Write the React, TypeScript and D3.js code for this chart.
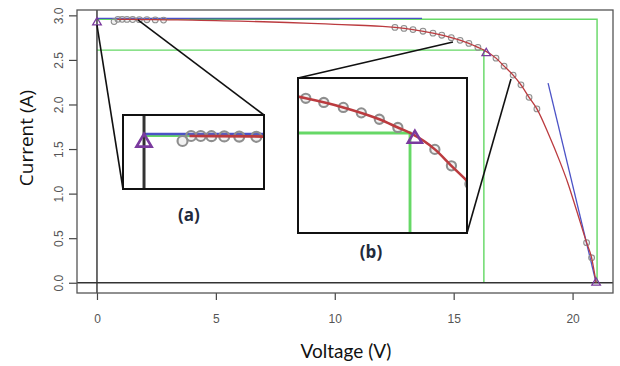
import React, { useEffect, useRef } from 'react'
import * as d3 from 'd3'

// fitted I-V curve
const fitV = [0.85, 2, 3, 4, 5, 6, 7, 8, 9, 10, 11, 12, 12.53, 13.29, 14.13, 14.9, 15.64, 16.02, 16.27, 16.78, 17.12, 17.5, 17.83, 18.17, 18.5, 19.0, 19.45, 19.8, 20.17, 20.59, 20.8, 20.99]
const fitI = [2.955, 2.953, 2.95, 2.946, 2.941, 2.935, 2.928, 2.92, 2.91, 2.899, 2.889, 2.877, 2.865, 2.84, 2.80, 2.75, 2.685, 2.64, 2.61, 2.52, 2.43, 2.33, 2.22, 2.08, 1.95, 1.66, 1.37, 1.12, 0.81, 0.45, 0.28, 0]

// measured points
const measV = [0.72, 0.88, 1.06, 1.26, 1.5, 1.78, 2.1, 2.45, 2.8, 12.53, 12.91, 13.29, 13.71, 14.13, 14.5, 14.9, 15.27, 15.64, 16.02, 16.78, 17.12, 17.5, 17.83, 18.17, 18.5, 20.59, 20.8]
const measI = [2.93, 2.955, 2.955, 2.954, 2.953, 2.952, 2.951, 2.949, 2.947, 2.865, 2.853, 2.84, 2.822, 2.80, 2.777, 2.75, 2.72, 2.685, 2.64, 2.52, 2.43, 2.33, 2.22, 2.08, 1.95, 0.45, 0.28]

// key points: Isc, MPP, Voc
const keyV = [0, 16.37, 20.99]
const keyI = [2.93, 2.585, 0.01]

// guide rectangles (Isc x Voc, Imp x Vmp)
const guideV = [21.03, 16.27]
const guideI = [2.957, 2.61]

// tangent lines, start / end
const tanV = [[0, 13.67], [3.9, 10.2], [18.97, 20.99]]
const tanI = [[2.965, 2.965], [2.96, 2.96], [2.24, 0]]

const xTicks = [0, 5, 10, 15, 20]
const yTicks = [0, 0.5, 1, 1.5, 2, 2.5, 3]

const tanColor = ['#4b52c6', '#3f7b82', '#4b52c6']
const green = '#66d866'
const red = '#bb3b3f'
const purple = '#7a3a9e'

type Sz = { lw: number, r: number, tri: number }

function drawLayer(g: any, x: any, y: any, s: Sz) {
  const line = d3.line<number[]>().x(d => x(d[0])).y(d => y(d[1]))
  const [xa, xb] = x.range()
  const [ya, yb] = y.range()

  // guides
  guideV.forEach((v, i) => {
    g.append('path')
      .attr('d', line([[0, guideI[i]], [v, guideI[i]], [v, 0]]))
      .attr('fill', 'none')
      .attr('stroke', green)
      .attr('stroke-width', s.lw * 1.1)
  })

  // tangents
  tanV.forEach((tv, i) => {
    g.append('path')
      .attr('d', line([[tv[0], tanI[i][0]], [tv[1], tanI[i][1]]]))
      .attr('stroke', tanColor[i])
      .attr('stroke-width', s.lw)
  })

  // zero lines
  g.append('line')
    .attr('x1', xa).attr('x2', xb).attr('y1', y(0)).attr('y2', y(0))
    .attr('stroke', '#333').attr('stroke-width', s.lw * 1.1)
  g.append('line')
    .attr('x1', x(0)).attr('x2', x(0)).attr('y1', ya).attr('y2', yb)
    .attr('stroke', '#333').attr('stroke-width', s.lw * 1.1)

  // measured
  g.append('g')
    .selectAll('circle')
    .data(measV.map((v, i) => [v, measI[i]]))
    .join('circle')
    .attr('cx', (d: number[]) => x(d[0]))
    .attr('cy', (d: number[]) => y(d[1]))
    .attr('r', s.r)
    .attr('fill', 'rgba(160,160,160,0.15)')
    .attr('stroke', '#8e8e8e')
    .attr('stroke-width', s.lw * 0.8)

  // fitted curve
  const fitLine = d3.line<number[]>().x(d => x(d[0])).y(d => y(d[1])).curve(d3.curveMonotoneX)
  g.append('path')
    .attr('d', fitLine(fitV.map((v, i) => [v, fitI[i]])))
    .attr('fill', 'none')
    .attr('stroke', red)
    .attr('stroke-width', s.lw)

  // key points
  const h = s.tri
  g.append('g')
    .selectAll('path')
    .data(keyV.map((v, i) => [v, keyI[i]]))
    .join('path')
    .attr('transform', (d: number[]) => `translate(${x(d[0])},${y(d[1])})`)
    .attr('d', `M0,${-h * 0.95}L${h},${h * 0.75}L${-h},${h * 0.75}Z`)
    .attr('fill', 'none')
    .attr('stroke', purple)
    .attr('stroke-width', s.lw)
}

const App = () => {
  const ref = useRef<SVGSVGElement>(null)

  useEffect(() => {
    const svg = d3.select(ref.current)
    svg.selectAll('*').remove()

    const x = d3.scaleLinear().domain([-0.84, 21.7]).range([77, 613])
    const y = d3.scaleLinear().domain([-0.115, 3.06]).range([293, 10])

    svg.append('rect').attr('width', 620).attr('height', 366).attr('fill', '#fff')

    const defs = svg.append('defs')
    defs.append('clipPath').attr('id', 'clip-main')
      .append('rect').attr('x', 77).attr('y', 10).attr('width', 536).attr('height', 283)

    const main = svg.append('g').attr('clip-path', 'url(#clip-main)')
    drawLayer(main, x, y, { lw: 1.3, r: 2.9, tri: 4.3 })

    // axes
    const xAxis = svg.append('g')
      .attr('transform', 'translate(0,293)')
      .call(d3.axisBottom(x).tickValues(xTicks).tickSize(7).tickFormat(d3.format('d')))
    xAxis.select('.domain').remove()
    xAxis.selectAll('line').attr('stroke', '#444').attr('stroke-width', 1.2)
    xAxis.selectAll('text')
      .attr('y', 30).attr('dy', 0)
      .attr('fill', '#555')
      .attr('font-family', 'Liberation Sans, Arial, sans-serif')
      .attr('font-size', 12)

    const yAxis = svg.append('g')
      .attr('transform', 'translate(77,0)')
      .call(d3.axisLeft(y).tickValues(yTicks).tickSize(8).tickFormat(d3.format('.1f')))
    yAxis.select('.domain').remove()
    yAxis.selectAll('line').attr('stroke', '#444').attr('stroke-width', 1.2)
    yAxis.selectAll('text')
      .attr('transform', 'rotate(-90)')
      .attr('x', 0).attr('y', -14).attr('dy', 0)
      .attr('text-anchor', 'middle')
      .attr('fill', '#555')
      .attr('font-family', 'Liberation Sans, Arial, sans-serif')
      .attr('font-size', 12)

    svg.append('rect')
      .attr('x', 77).attr('y', 10).attr('width', 536).attr('height', 283)
      .attr('fill', 'none').attr('stroke', '#555').attr('stroke-width', 1.3)

    // zoom insets
    const insets = [
      { id: 'a', xDom: [-0.393, 2.243], yDom: [2.69, 3.06], box: [123, 115, 264, 189],
        from: [[0, 2.89], [1.72, 2.95]], to: [[123, 189], [264, 115]],
        sz: { lw: 2.7, r: 5, tri: 7.5 }, label: [189, 221] },
      { id: 'b', xDom: [13.97, 17.44], yDom: [2.062, 2.911], box: [298, 78, 467, 233],
        from: [[14.97, 2.70], [17.41, 2.286]], to: [[298, 78], [467, 233]],
        sz: { lw: 2.6, r: 4.6, tri: 7 }, label: [371, 258] },
    ]

    insets.forEach(ins => {
      const [x0, y0, x1, y1] = ins.box
      ins.from.forEach((f, i) => {
        svg.append('line')
          .attr('x1', x(f[0])).attr('y1', y(f[1]))
          .attr('x2', ins.to[i][0]).attr('y2', ins.to[i][1])
          .attr('stroke', '#111').attr('stroke-width', 1.6)
      })
      defs.append('clipPath').attr('id', `clip-${ins.id}`)
        .append('rect').attr('x', x0).attr('y', y0).attr('width', x1 - x0).attr('height', y1 - y0)
      svg.append('rect')
        .attr('x', x0).attr('y', y0).attr('width', x1 - x0).attr('height', y1 - y0)
        .attr('fill', '#fff')
      const ix = d3.scaleLinear().domain(ins.xDom).range([x0, x1])
      const iy = d3.scaleLinear().domain(ins.yDom).range([y1, y0])
      const g = svg.append('g').attr('clip-path', `url(#clip-${ins.id})`)
      drawLayer(g, ix, iy, ins.sz)
      svg.append('rect')
        .attr('x', x0).attr('y', y0).attr('width', x1 - x0).attr('height', y1 - y0)
        .attr('fill', 'none').attr('stroke', '#111').attr('stroke-width', 2)
      svg.append('text')
        .attr('x', ins.label[0]).attr('y', ins.label[1])
        .attr('text-anchor', 'middle')
        .attr('font-family', 'Open Sans, sans-serif')
        .attr('font-weight', 'bold')
        .attr('font-size', 17)
        .attr('fill', '#1f2a3c')
        .text(`(${ins.id})`)
    })

    // axis titles
    svg.append('text')
      .attr('x', 346).attr('y', 358)
      .attr('text-anchor', 'middle')
      .attr('font-family', 'Lato, sans-serif')
      .attr('font-size', 19)
      .attr('fill', '#111')
      .text('Voltage (V)')

    svg.append('text')
      .attr('transform', 'translate(33,138) rotate(-90)')
      .attr('text-anchor', 'middle')
      .attr('font-family', 'Open Sans, sans-serif')
      .attr('font-size', 19)
      .attr('fill', '#111')
      .text('Current (A)')
  }, [])

  return (
    <svg ref={ref} width={620} height={366}
      style={{ position: 'absolute', left: 0, top: 0, display: 'block' }} />
  )
}

export default App
